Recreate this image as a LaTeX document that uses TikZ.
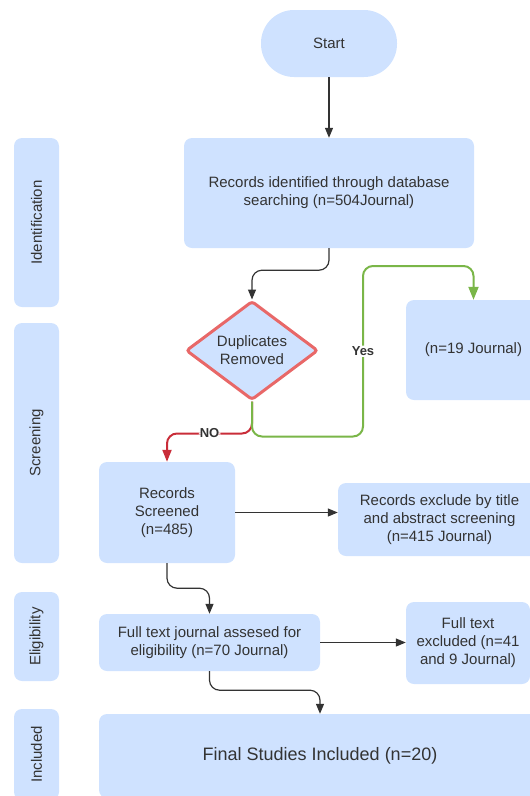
\documentclass[tikz,border=0pt]{standalone}
\usepackage{fontspec}
\setmainfont{Liberation Sans}
\usetikzlibrary{shapes.geometric,arrows.meta,positioning}
\definecolor{LCblau}{RGB}{207,226,255}
\definecolor{LCrot}{RGB}{201,45,57}
\definecolor{LCrosa}{RGB}{232,104,104}
\definecolor{LCgruen}{RGB}{122,182,72}
\definecolor{LCgrau}{RGB}{51,51,51}

\begin{document}
\begin{tikzpicture}[x=1pt, y=-1pt,
	box/.style={rectangle, rounded corners=8pt, fill=LCblau, align=center,
		inner sep=0pt, text=LCgrau, font=\fontsize{15}{18}\selectfont},
	side/.style={box, rotate=90, minimum height=45pt},
	dec/.style={diamond, draw=LCrosa, line width=3pt, fill=LCblau, aspect=1.33,
		minimum width=132pt, minimum height=99pt, inner sep=0pt, align=center,
		rounded corners=3pt, text=LCgrau, font=\fontsize{15}{18}\selectfont},
	arr/.style={-{Triangle[length=10pt,width=8pt]}, line width=1.2pt, LCgrau, rounded corners=10pt},
	yesarr/.style={-{Triangle[length=13pt,width=10pt]}, line width=2pt, LCgruen, rounded corners=10pt},
	noarr/.style={-{Triangle[length=12pt,width=9pt]}, line width=2pt, LCrot, rounded corners=10pt},
	lbl/.style={fill=white, inner sep=1pt, text=LCgrau, font=\fontsize{13}{15}\selectfont\bfseries}]

	\useasboundingbox (0,0) rectangle (530,796);
	\clip (0,0) rectangle (530,796);

	% Phases
	\node[side, minimum width=169pt] (lid)   at (36.5,222.5) {Identification};
	\node[side, minimum width=240pt] (lscr)  at (36.5,443)   {Screening};
	\node[side, minimum width=89pt]  (lelig) at (36.5,636.5) {Eligibility};
	\node[side, minimum width=91pt]  (linc)  at (36.5,754.5) {Included};

	% Main column
	\node[box, rounded corners=33pt, minimum width=136pt, minimum height=67pt] (start) at (329,43.5) {Start};
	\node[box, minimum width=290pt, minimum height=110pt] (ident) at (329,193) {Records identified through database\\searching (n=504Journal)};
	\node[dec] (dup) at (252,350.5) {Duplicates\\Removed};
	\node[box, minimum width=135pt, minimum height=100pt] (dupout) at (473.5,350) {(n=19 Journal)};
	\node[box, minimum width=136pt, minimum height=101pt] (screen) at (167,512.5) {Records\\Screened\\(n=485)};
	\node[box, minimum width=203pt, minimum height=73pt] (excl1) at (439.5,519.5) {Records exclude by title\\and abstract screening\\(n=415 Journal)};
	\node[box, minimum width=221pt, minimum height=57pt] (elig) at (209.5,642.5) {Full text journal assesed for\\eligibility (n=70 Journal)};
	\node[box, minimum width=124pt, minimum height=82pt] (excl2) at (468,643) {Full text\\excluded (n=41\\and 9 Journal)};
	\node[box, minimum width=442pt, minimum height=84pt, font=\fontsize{18}{22}\selectfont] (final) at (320,756) {Final Studies Included (n=20)};

	% Arrows
	\draw[arr] (start) -- (ident);
	\draw[arr] (ident.south) -- ++(0,22) -| (dup.north);
	\draw[noarr] (dup.south) -- ++(0,32) -| node[pos=0.25, lbl] {NO} (screen.north);
	\coordinate (ybend) at (363,266);
	\draw[yesarr] (dup.south) -- ++(0,35) -| node[pos=0.75, lbl] {Yes} (ybend) -| (dupout.north);
	\draw[arr] (screen.east) -- (screen.east -| excl1.west);
	\draw[arr] (screen.south) -- ++(0,25) -| (elig.north);
	\draw[arr] (elig.east) -- (elig.east -| excl2.west);
	\draw[arr] (elig.south) -- ++(0,19) -| (final.north);
\end{tikzpicture}
\end{document}
